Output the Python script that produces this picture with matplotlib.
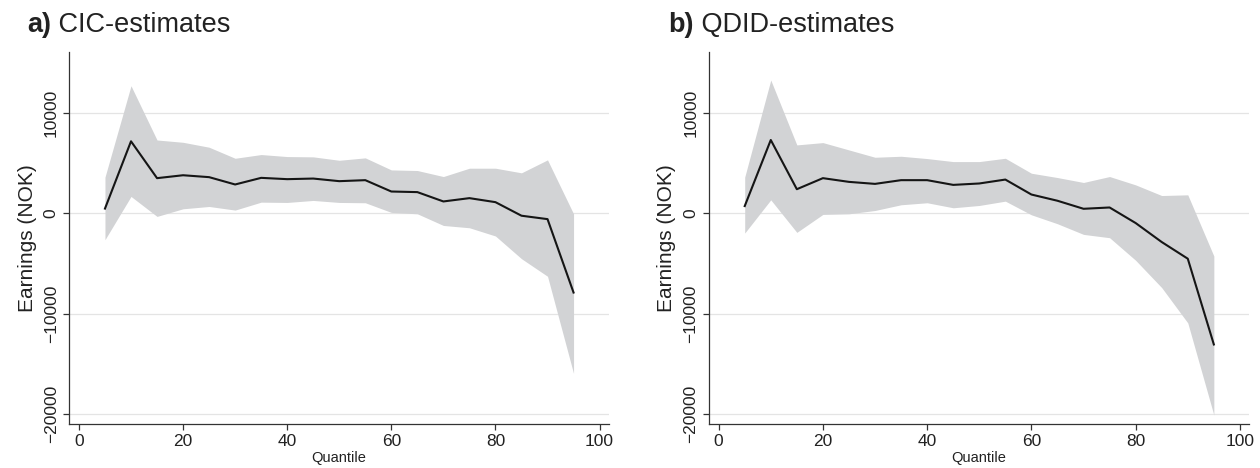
import numpy as np
import matplotlib.pyplot as plt

plt.rcParams['font.family'] = ['Liberation Sans', 'DejaVu Sans']

quantiles = [5, 10, 15, 20, 25, 30, 35, 40, 45, 50, 55, 60, 65, 70, 75, 80, 85, 90, 95]

# CIC estimates with confidence band
cic_est = [450, 7150, 3480, 3770, 3580, 2850, 3510, 3380, 3440, 3180, 3280,
           2150, 2090, 1160, 1490, 1090, -260, -600, -7910]
cic_hi = [3580, 12680, 7280, 7050, 6560, 5460, 5830, 5630, 5600, 5260, 5500,
          4300, 4240, 3640, 4470, 4470, 4010, 5300, -70]
cic_lo = [-2650, 1660, -330, 430, 660, 300, 1090, 1060, 1260, 1060, 1030,
          70, -70, -1230, -1460, -2280, -4540, -6290, -15960]

# QDID estimates with confidence band
qdid_est = [700, 7280, 2380, 3480, 3110, 2910, 3280, 3280, 2810, 2950, 3340,
            1850, 1230, 430, 560, -990, -2880, -4540, -13080]
qdid_hi = [3580, 13250, 6790, 7020, 6290, 5560, 5660, 5430, 5130, 5130, 5460,
           3970, 3540, 3050, 3640, 2810, 1750, 1820, -4270]
qdid_lo = [-1990, 1320, -1920, -130, -70, 260, 830, 1030, 530, 760, 1190,
           -170, -1060, -2120, -2450, -4700, -7420, -10930, -20100]

panels = [
    ("a)", " CIC-estimates", cic_est, cic_lo, cic_hi),
    ("b)", " QDID-estimates", qdid_est, qdid_lo, qdid_hi),
]

fig = plt.figure(figsize=(12.6, 4.68), dpi=100)
axes_rects = [[0.0548, 0.094, 0.4285, 0.794], [0.5625, 0.094, 0.429, 0.794]]
title_x = [27 / 1260, 668 / 1260]

for rect, tx, (tag, name, est, lo, hi) in zip(axes_rects, title_x, panels):
    ax = fig.add_axes(rect)
    ax.fill_between(quantiles, lo, hi, color='#d2d3d5', linewidth=0, zorder=1)
    ax.plot(quantiles, est, color='#151515', linewidth=1.5, zorder=2)

    ax.set_xlim(-1.9, 101.8)
    ax.set_ylim(-21000, 16000)
    ax.set_xticks([0, 20, 40, 60, 80, 100])
    ax.set_yticks([-20000, -10000, 0, 10000])
    ax.yaxis.grid(True, color='#e4e4e4', linewidth=0.9, zorder=0)
    ax.set_axisbelow(True)

    for side in ['top', 'right']:
        ax.spines[side].set_visible(False)
    for side in ['left', 'bottom']:
        ax.spines[side].set_color('#333333')
        ax.spines[side].set_linewidth(0.9)

    ax.tick_params(axis='both', colors='#333333', labelcolor='#222222',
                   length=4, width=0.9, labelsize=12.5)
    for lab in ax.get_yticklabels():
        lab.set_rotation(90)
        lab.set_va('center')
    ax.set_ylabel("Earnings (NOK)", fontsize=15, color='#222222', labelpad=5)
    ax.set_xlabel("Quantile", fontsize=10.5, color='#222222', labelpad=1)

    t = fig.text(tx, 1 - 32 / 468, tag, fontsize=19.5, fontweight='bold',
                 color='#222222', ha='left', va='baseline')
    fig.canvas.draw()
    bb = t.get_window_extent()
    fig.text(bb.x1 / fig.bbox.width, 1 - 32 / 468, name, fontsize=19.5,
             color='#222222', ha='left', va='baseline')

fig.savefig("out.png", dpi=100)
